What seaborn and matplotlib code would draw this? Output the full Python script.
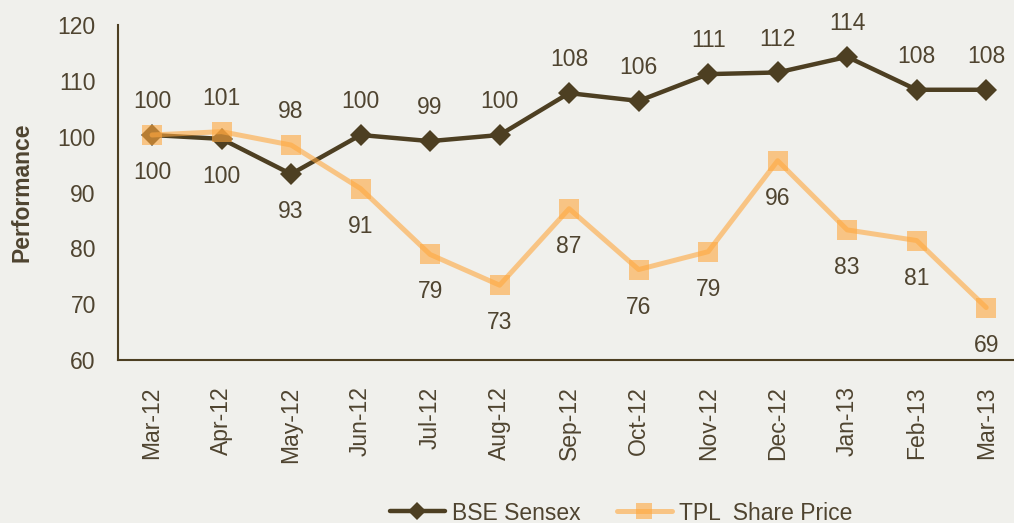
import numpy as np
import pandas as pd
import matplotlib
matplotlib.use('Agg')
import matplotlib.pyplot as plt
import seaborn as sns

### data ##################################################
months = ['Mar-12', 'Apr-12', 'May-12', 'Jun-12', 'Jul-12', 'Aug-12', 'Sep-12',
          'Oct-12', 'Nov-12', 'Dec-12', 'Jan-13', 'Feb-13', 'Mar-13']
bse = [100.3, 99.6, 93.3, 100.3, 99.2, 100.3, 107.8, 106.4, 111.2, 111.5, 114.3, 108.4, 108.4]
tpl = [100.3, 100.9, 98.5, 90.7, 78.9, 73.4, 87.1, 76.2, 79.4, 95.7, 83.3, 81.4, 69.4]
bse_lbl_pos = ['above', 'below', 'below', 'above', 'above', 'above', 'above',
               'above', 'above', 'above', 'above', 'above', 'above']
tpl_lbl_pos = ['below', 'above', 'above', 'below', 'below', 'below', 'below',
               'below', 'below', 'below', 'below', 'below', 'below']

### style #################################################
BG = '#f0f0ec'
DARK = '#4d3f22'
ORANGE = '#ffa83f'
TXT = '#4f4430'
FS = 16.5

sns.set_theme(style='white')
plt.rcParams['font.family'] = ['Liberation Sans', 'DejaVu Sans']
plt.rcParams['text.color'] = TXT
plt.rcParams['axes.labelcolor'] = TXT
plt.rcParams['xtick.color'] = TXT
plt.rcParams['ytick.color'] = TXT

df = pd.DataFrame({'x': np.arange(len(months)), 'BSE Sensex': bse, 'TPL  Share Price': tpl})

fig = plt.figure(figsize=(10.14, 5.23), dpi=100, facecolor=BG)
ax = fig.add_axes([118/1014, 1 - 360/523, (1014-118)/1014, (360-25)/523])
ax.set_facecolor(BG)

sns.lineplot(data=df, x='x', y='BSE Sensex', ax=ax, color=DARK, lw=3.2, marker='D',
             markersize=11, markeredgewidth=0, label='BSE Sensex', legend=False)
sns.lineplot(data=df, x='x', y='TPL  Share Price', ax=ax, color=ORANGE, lw=3.6, marker='s',
             markersize=14, markeredgewidth=0, alpha=0.6, label='TPL  Share Price', legend=False)

# data labels
for vals, pos in [(bse, bse_lbl_pos), (tpl, tpl_lbl_pos)]:
    for i, (v, p) in enumerate(zip(vals, pos)):
        off = 24 if p == 'above' else -27
        ax.annotate('%d' % round(v), (i, v), xytext=(0, off), textcoords='offset points',
                    ha='center', va='center', fontsize=FS, color=TXT)

ax.set_xlim(-0.49, 12.4)
ax.set_ylim(60, 120)
ax.set_yticks(range(60, 121, 10))
ax.set_xticks(range(len(months)))
ax.set_xticklabels(months, rotation=90, fontsize=FS)
ax.tick_params(axis='y', labelsize=FS, length=0, pad=16)
ax.tick_params(axis='x', length=0, pad=19)
ax.set_xlabel('')
ax.set_ylabel('Performance', fontsize=16.5, fontweight='bold', labelpad=17)

for s in ['top', 'right']:
    ax.spines[s].set_visible(False)
for s in ['left', 'bottom']:
    ax.spines[s].set_color(DARK)
    ax.spines[s].set_linewidth(1.5)

h, l = ax.get_legend_handles_labels()
fig.legend(h, l, loc='center', bbox_to_anchor=(621/1014, 1 - 513/523), ncol=2, frameon=False,
           fontsize=FS, handlelength=2.4, columnspacing=1.6, handletextpad=0.3, markerscale=0.8)

fig.savefig('out.png', dpi=100, facecolor=BG)
